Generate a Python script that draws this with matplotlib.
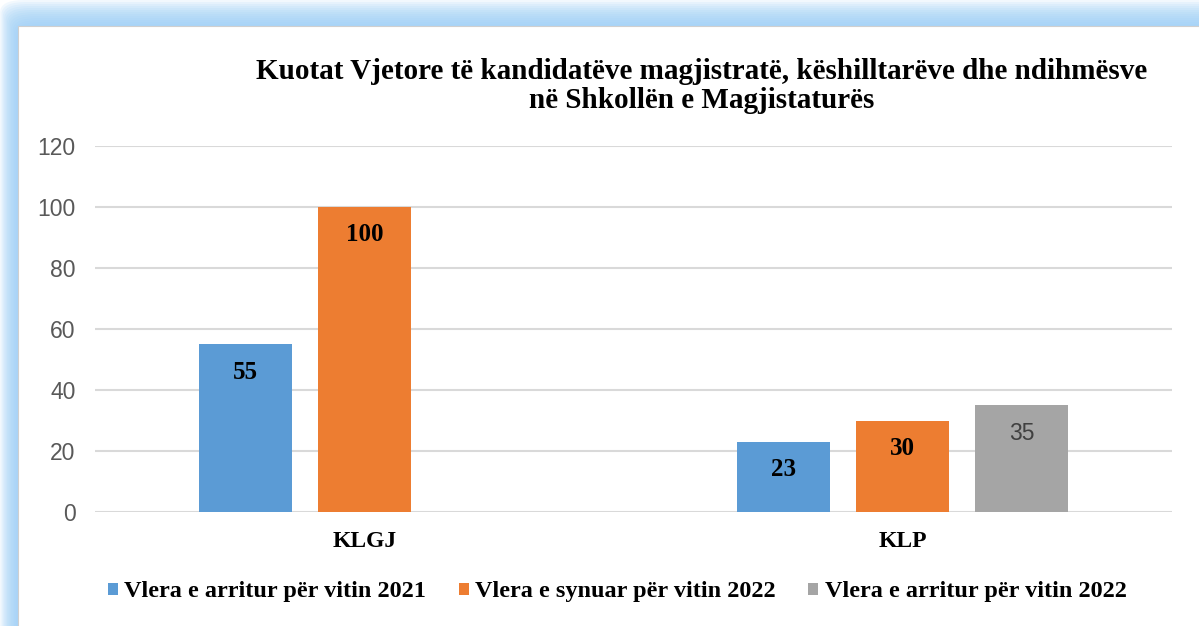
import numpy as np
import matplotlib
matplotlib.use("Agg")
import matplotlib.pyplot as plt
from matplotlib.patches import FancyBboxPatch, Rectangle

# ---------------------------------------------------------------------------
# Data
# ---------------------------------------------------------------------------
categories = ["KLGJ", "KLP"]
series_names = [
    "Vlera e arritur për vitin 2021",
    "Vlera e synuar për vitin 2022",
    "Vlera e arritur për vitin 2022",
]
vals_2021 = [55, 23]
vals_target_2022 = [100, 30]
vals_2022 = [np.nan, 35]  # no value for KLGJ
y_ticks = [0, 20, 40, 60, 80, 100, 120]
title = ("Kuotat Vjetore të kandidatëve magjistratë, këshilltarëve dhe ndihmësve\n"
         "në Shkollën e Magjistaturës")

colors = ["#5B9BD5", "#ED7D31", "#A5A5A5"]
SERIF = ["Liberation Serif", "DejaVu Serif"]
SANS = ["Liberation Sans", "DejaVu Sans"]

W, H = 1199, 626
fig = plt.figure(figsize=(W / 100, H / 100), dpi=100)
fig.patch.set_facecolor("white")

# ---- glow frame (left/top) ----
def px(x, y):
    return x / W, 1 - y / H

n = 14
for i in range(n):
    t = i / (n - 1)
    lx = 18 * (1 - t)
    ty = 26 * (1 - t)
    x0, y1 = px(lx, ty)
    r = FancyBboxPatch((x0, -0.1), 1.2 - x0, y1 + 0.1,
                       boxstyle="round,pad=0,rounding_size=0.02",
                       transform=fig.transFigure, facecolor="#9ccff7",
                       edgecolor="none", alpha=0.13, zorder=0)
    fig.patches.append(r)
x0, y1 = px(18, 26)
fig.patches.append(Rectangle((x0, -0.1), 1.2 - x0, y1 + 0.1,
                             transform=fig.transFigure, facecolor="white",
                             edgecolor="#cfcfcf", linewidth=0.8, zorder=1))

# ---- axes ----
ax = fig.add_axes([95 / W, 1 - 512 / H, 1077 / W, 366 / H])
ax.set_facecolor("none")
ax.set_zorder(2)

x = np.arange(len(categories))
width = 0.173
step = 0.221
all_series = [vals_2021, vals_target_2022, vals_2022]
for i, (vals, c) in enumerate(zip(all_series, colors)):
    bars = ax.bar(x + (i - 1) * step, vals, width, color=c, label=series_names[i],
                  zorder=3)
    for b, v in zip(bars, vals):
        if np.isnan(v):
            continue
        if i == 2:
            ax.annotate(f"{v:g}", (b.get_x() + b.get_width() / 2, v),
                        xytext=(0, -20), textcoords="offset points",
                        ha="center", va="center", fontsize=16.5,
                        color="#404040", family=SANS, zorder=4)
        else:
            ax.annotate(f"{v:g}", (b.get_x() + b.get_width() / 2, v),
                        xytext=(0, -20), textcoords="offset points",
                        ha="center", va="center", fontsize=18,
                        fontweight="bold", color="black", family=SERIF, zorder=4)

ax.set_xlim(-0.5, 1.5)
ax.set_ylim(0, 120)
ax.set_yticks(y_ticks)
ax.set_yticklabels([str(t) for t in y_ticks], fontsize=16.5, color="#595959",
                   family=SANS)
ax.set_xticks(x)
ax.set_xticklabels(categories, fontsize=17, fontweight="bold", family=SERIF)
ax.tick_params(axis="both", length=0)
ax.tick_params(axis="y", pad=14)
ax.tick_params(axis="x", pad=14)
ax.grid(axis="y", color="#d9d9d9", linewidth=1.5, zorder=0)
for s in ax.spines.values():
    s.set_visible(False)

fig.text(702 / W, 1 - 86 / H, title, ha="center", va="center", fontsize=21,
         fontweight="bold", family=SERIF, linespacing=1.08, zorder=5)

leg = fig.legend(loc="center", bbox_to_anchor=(617 / W, 1 - 592 / H), ncol=3,
                 frameon=False, handlelength=0.42, handleheight=0.42,
                 handletextpad=0.25, columnspacing=1.35,
                 prop={"family": SERIF, "weight": "bold", "size": 17.5})

fig.savefig("out.png", dpi=100)
